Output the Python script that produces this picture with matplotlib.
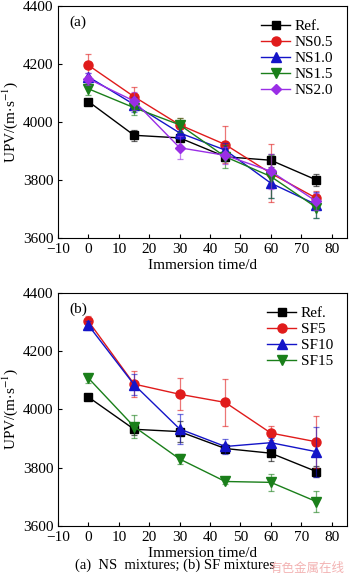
import numpy as np
import matplotlib.pyplot as plt

plt.rcParams['font.family'] = ['Liberation Serif', 'DejaVu Serif']
plt.rcParams['mathtext.fontset'] = 'stix'

days = [0, 15, 30, 45, 60, 75]

# (a) NS mixtures
ns_labels = ['Ref.', 'NS0.5', 'NS1.0', 'NS1.5', 'NS2.0']
ns_ref = [4070, 3954, 3945, 3880, 3868, 3800]
ns05 = [4195, 4087, 3990, 3922, 3823, 3737]
ns10 = [4155, 4060, 3962, 3903, 3789, 3715]
ns15 = [4114, 4049, 3990, 3880, 3812, 3705]
ns20 = [4148, 4072, 3911, 3885, 3830, 3726]
ns_ref_err = [10, 18, 12, 15, 22, 20]
ns05_err = [38, 35, 25, 65, 100, 25]
ns10_err = [15, 25, 20, 25, 50, 45]
ns15_err = [20, 25, 25, 40, 75, 35]
ns20_err = [20, 30, 40, 30, 60, 30]

# (b) SF mixtures
sf_labels = ['Ref.', 'SF5', 'SF10', 'SF15']
sf_ref = [4042, 3932, 3924, 3866, 3850, 3787]
sf5 = [4302, 4087, 4052, 4024, 3919, 3889]
sf10 = [4288, 4085, 3933, 3873, 3886, 3855]
sf15 = [4107, 3941, 3830, 3753, 3750, 3684]
sf_ref_err = [8, 20, 35, 15, 28, 20]
sf5_err = [20, 45, 55, 80, 25, 90]
sf10_err = [15, 35, 50, 25, 15, 85]
sf15_err = [15, 40, 18, 10, 28, 35]

colors = ['black', '#e01b1b', '#1414c8', '#1a7f1a', '#9a2ee6']
markers = ['s', 'o', '^', 'v', 'D']
msizes = [5.5, 6.5, 6.5, 6.5, 5.5]

fig = plt.figure(figsize=(3.5, 5.82), dpi=100)
ax1 = fig.add_axes([0.166, 0.591, 0.825, 0.399])
ax2 = fig.add_axes([0.166, 0.096, 0.825, 0.401])


def draw(ax, series, errs, labels, tag):
    handles = []
    for i, (y, e, lab) in enumerate(zip(series, errs, labels)):
        ax.errorbar(days, y, yerr=e, fmt='none', ecolor=colors[i],
                    elinewidth=0.9, capsize=2.5, capthick=0.9, alpha=0.6)
        h, = ax.plot(days, y, color=colors[i], marker=markers[i],
                     ms=msizes[i], lw=1.0, label=lab)
        handles.append(h)
    ax.set_xlim(-10, 85)
    ax.set_ylim(3600, 4400)
    ax.set_xticks(np.arange(-10, 81, 10))
    ax.set_yticks([3600, 3800, 4000, 4200, 4400])
    ax.tick_params(direction='in', labelsize=11, length=3, width=0.8)
    ax.set_xlabel('Immersion time/d', fontsize=11, labelpad=2)
    ax.set_ylabel('UPV/(m$\\cdot$s$^{-1}$)', fontsize=11, labelpad=2)
    ax.text(0.04, 0.96, tag, transform=ax.transAxes, fontsize=11,
            va='top', ha='left')
    ax.legend(handles=handles, loc='upper right', frameon=False, fontsize=11,
              handlelength=1.9, handletextpad=0.3, labelspacing=0.15,
              borderaxespad=0.5)
    for s in ax.spines.values():
        s.set_linewidth(0.8)


draw(ax1, [ns_ref, ns05, ns10, ns15, ns20],
     [ns_ref_err, ns05_err, ns10_err, ns15_err, ns20_err], ns_labels, '(a)')
draw(ax2, [sf_ref, sf5, sf10, sf15],
     [sf_ref_err, sf5_err, sf10_err, sf15_err], sf_labels, '(b)')

fig.text(0.5, 0.017, '(a)  NS  mixtures; (b) SF mixtures', ha='center',
         va='bottom', fontsize=10.5)
fig.text(0.985, 0.012, '有色金属在线', ha='right', va='bottom', fontsize=9,
         color='#f0a0a0', alpha=0.8, family=['Noto Sans CJK SC', 'DejaVu Sans'])

fig.savefig('out.png', dpi=100)
